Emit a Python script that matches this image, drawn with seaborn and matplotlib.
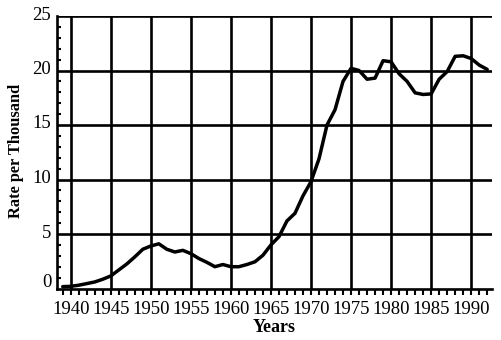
import matplotlib
matplotlib.use("Agg")
import matplotlib.pyplot as plt
import matplotlib.transforms as mtransforms
import seaborn as sns
import pandas as pd
import numpy as np

years = list(range(1939, 1993))
rate = [0.17, 0.2, 0.3, 0.45, 0.6, 0.85, 1.15, 1.7, 2.25, 2.9,
        3.6, 3.9, 4.1, 3.6, 3.35, 3.5, 3.2, 2.75, 2.4, 2.0,
        2.2, 2.0, 2.0, 2.2, 2.45, 3.05, 4.0, 4.75, 6.2, 6.9,
        8.5, 9.8, 11.9, 15.0, 16.4, 19.0, 20.2, 20.0, 19.2, 19.3,
        20.9, 20.8, 19.7, 19.0, 17.95, 17.8, 17.85, 19.2, 19.9, 21.3,
        21.35, 21.1, 20.5, 20.1]
x_ticks = [1940, 1945, 1950, 1955, 1960, 1965, 1970, 1975, 1980, 1985, 1990]
y_ticks = [0, 5, 10, 15, 20, 25]

df = pd.DataFrame({"Years": years, "Rate": rate})

sns.set_theme(style="white")
plt.rcParams["font.family"] = ["Liberation Serif", "DejaVu Serif"]

fig = plt.figure(figsize=(5.02, 3.40), dpi=100)
ax = fig.add_axes([56.7 / 502, 1 - 288.5 / 340, (492 - 56.7) / 502, (288.5 - 16) / 340])

sns.lineplot(data=df, x="Years", y="Rate", ax=ax, color="black", linewidth=2.5, zorder=3)

ax.set_xlim(1938.25, 1992.6)
ax.set_ylim(0, 25)
ax.set_xticks(x_ticks)
ax.set_xticklabels([str(v) for v in x_ticks], fontsize=13.5)
ax.set_xticks(range(1939, 1993), minor=True)
ax.set_yticks(y_ticks)
ax.set_yticklabels([str(v) for v in y_ticks], fontsize=13.5)
ax.set_yticks(range(0, 26), minor=True)

for v in x_ticks:
    ax.axvline(v, color="black", linewidth=1.9, zorder=1)
for v in y_ticks[1:]:
    ax.axhline(v, color="black", linewidth=1.9, zorder=1)

ax.tick_params(axis="x", which="minor", direction="out", length=4, width=1.5, color="black", bottom=True)
ax.tick_params(axis="x", which="major", direction="out", length=4, width=1.5, color="black", bottom=True, pad=5, labelcolor="black")
ax.tick_params(axis="y", which="minor", direction="in", length=3, width=1.5, color="black", left=True)
ax.tick_params(axis="y", which="major", direction="in", length=0, pad=4, labelcolor="black", left=True)

for side in ["top", "right"]:
    ax.spines[side].set_visible(False)
for side in ["left", "bottom"]:
    ax.spines[side].set_color("black")
    ax.spines[side].set_linewidth(1.9)

# nudge y tick labels up slightly like the reference
for lbl in ax.get_yticklabels():
    dy = 8 if lbl.get_text() == "0" else 3
    lbl.set_transform(lbl.get_transform() + mtransforms.ScaledTranslation(0, dy / 100, fig.dpi_scale_trans))

ax.set_xlabel("Years", fontsize=13, fontweight="bold", color="black", labelpad=1)
ax.set_ylabel("Rate per Thousand", fontsize=11.8, fontweight="bold", color="black")
ax.yaxis.set_label_coords(-0.076, 0.505)

fig.savefig("out.png", dpi=100)
